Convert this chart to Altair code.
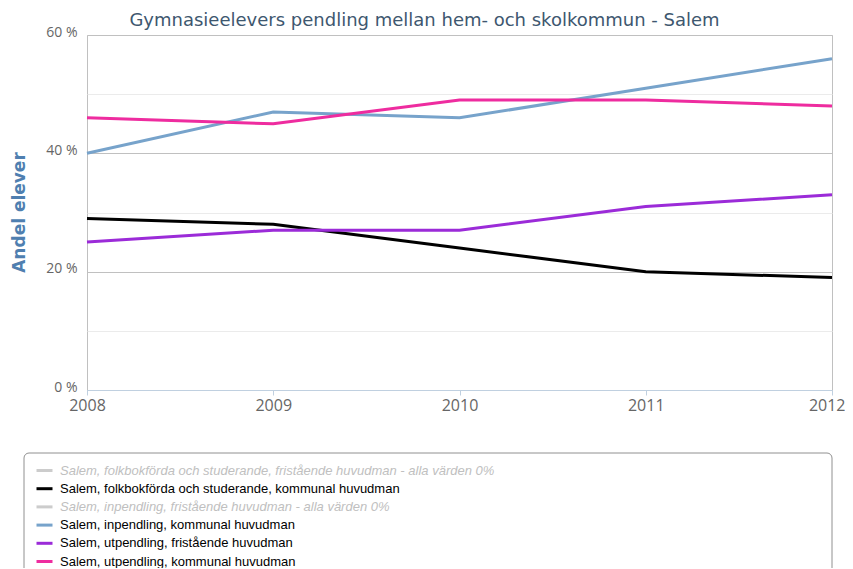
import altair as alt
import pandas as pd

years = [2008, 2009, 2010, 2011, 2012]
series = [
    "Salem, folkbokförda och studerande, fristående huvudman - alla värden 0%",
    "Salem, folkbokförda och studerande, kommunal huvudman",
    "Salem, inpendling, fristående huvudman - alla värden 0%",
    "Salem, inpendling, kommunal huvudman",
    "Salem, utpendling, fristående huvudman",
    "Salem, utpendling, kommunal huvudman",
]
colors = ["#CCCCCC", "#000000", "#CCCCCC", "#77A3CB", "#9B2BD8", "#EE2C9F"]

folk_kommunal = [29, 28, 24, 20, 19]
in_kommunal = [40, 47, 46, 51, 56]
ut_fristaende = [25, 27, 27, 31, 33]
ut_kommunal = [46, 45, 49, 49, 48]

rows = []
for name, vals in [(series[1], folk_kommunal), (series[3], in_kommunal),
                   (series[4], ut_fristaende), (series[5], ut_kommunal)]:
    for y, v in zip(years, vals):
        rows.append({"Serie": name, "År": y, "Andel": v})
df = pd.DataFrame(rows)

lines = alt.Chart(df).mark_line(strokeWidth=3).encode(
    x=alt.X("År:Q", scale=alt.Scale(domain=[2008, 2012], nice=False, zero=False),
            axis=alt.Axis(values=years, format="d", title=None, grid=False,
                          domainColor="#C0D0E0", tickColor="#C0D0E0", tickSize=5,
                          labelColor="#666666", labelFont="Open Sans", labelFontSize=16,
                          labelPadding=2, labelFlush=False,
                          labelAlign={"condition": {"test": "datum.value === 2012", "value": "right"}, "value": "center"},
                          labelOffset={"condition": {"test": "datum.value === 2012", "value": 13}, "value": 0})),
    y=alt.Y("Andel:Q", scale=alt.Scale(domain=[0, 60], nice=False),
            axis=alt.Axis(values=[0, 10, 20, 30, 40, 50, 60], title="Andel elever",
                          labelExpr="datum.value % 20 === 0 ? datum.value + ' %' : ''",
                          gridColor={"condition": {"test": "datum.value % 20 === 0", "value": "#C0C0C0"}, "value": "#EBEBEB"},
                          domain=False, ticks=False,
                          labelColor="#666666", labelFont="Open Sans", labelFontSize=14,
                          labelPadding=10, labelOffset=-3,
                          titleColor="#4F7FB0", titleFont="DejaVu Sans", titleFontSize=17,
                          titleFontWeight="bold", titleAngle=-90, titleX=-68, titleY=177,
                          titleAlign="center", titleBaseline="middle")),
    color=alt.Color("Serie:N", scale=alt.Scale(domain=series, range=colors),
                    legend=alt.Legend(orient="none", legendX=-52, legendY=426, title=None,
                                      symbolType="stroke", symbolSize=256, symbolStrokeWidth=3,
                                      labelFont="Liberation Sans", labelFontSize=13, labelLimit=800,
                                      labelOffset=6, rowPadding=1.2, padding=0,
                                      labelColor={"expr": "indexof(datum.label, 'alla') >= 0 ? '#C0C0C0' : '#000000'"},
                                      labelFontStyle={"expr": "indexof(datum.label, 'alla') >= 0 ? 'italic' : 'normal'"})),
)

box = alt.Chart(pd.DataFrame({"a": [0]})).mark_rect(
    cornerRadius=5, fillOpacity=0, stroke="#909090", strokeWidth=1
).encode(x=alt.value(-63), x2=alt.value(745), y=alt.value(418), y2=alt.value(600))

chart = alt.layer(lines, box).properties(
    width=745, height=355,
    autosize=alt.AutoSizeParams(type="none"),
    padding={"left": 79, "top": 27, "right": 13, "bottom": 178},
    title=alt.TitleParams("Gymnasieelevers pendling mellan hem- och skolkommun - Salem",
                          anchor="middle", dx=-35, dy=28, offset=9, baseline="alphabetic",
                          color="#3E576F", font="DejaVu Sans", fontSize=18, fontWeight="normal"),
).configure_view(stroke="#C0C0C0")

chart.save("out.html", embed_options={"renderer": "svg", "actions": False})
